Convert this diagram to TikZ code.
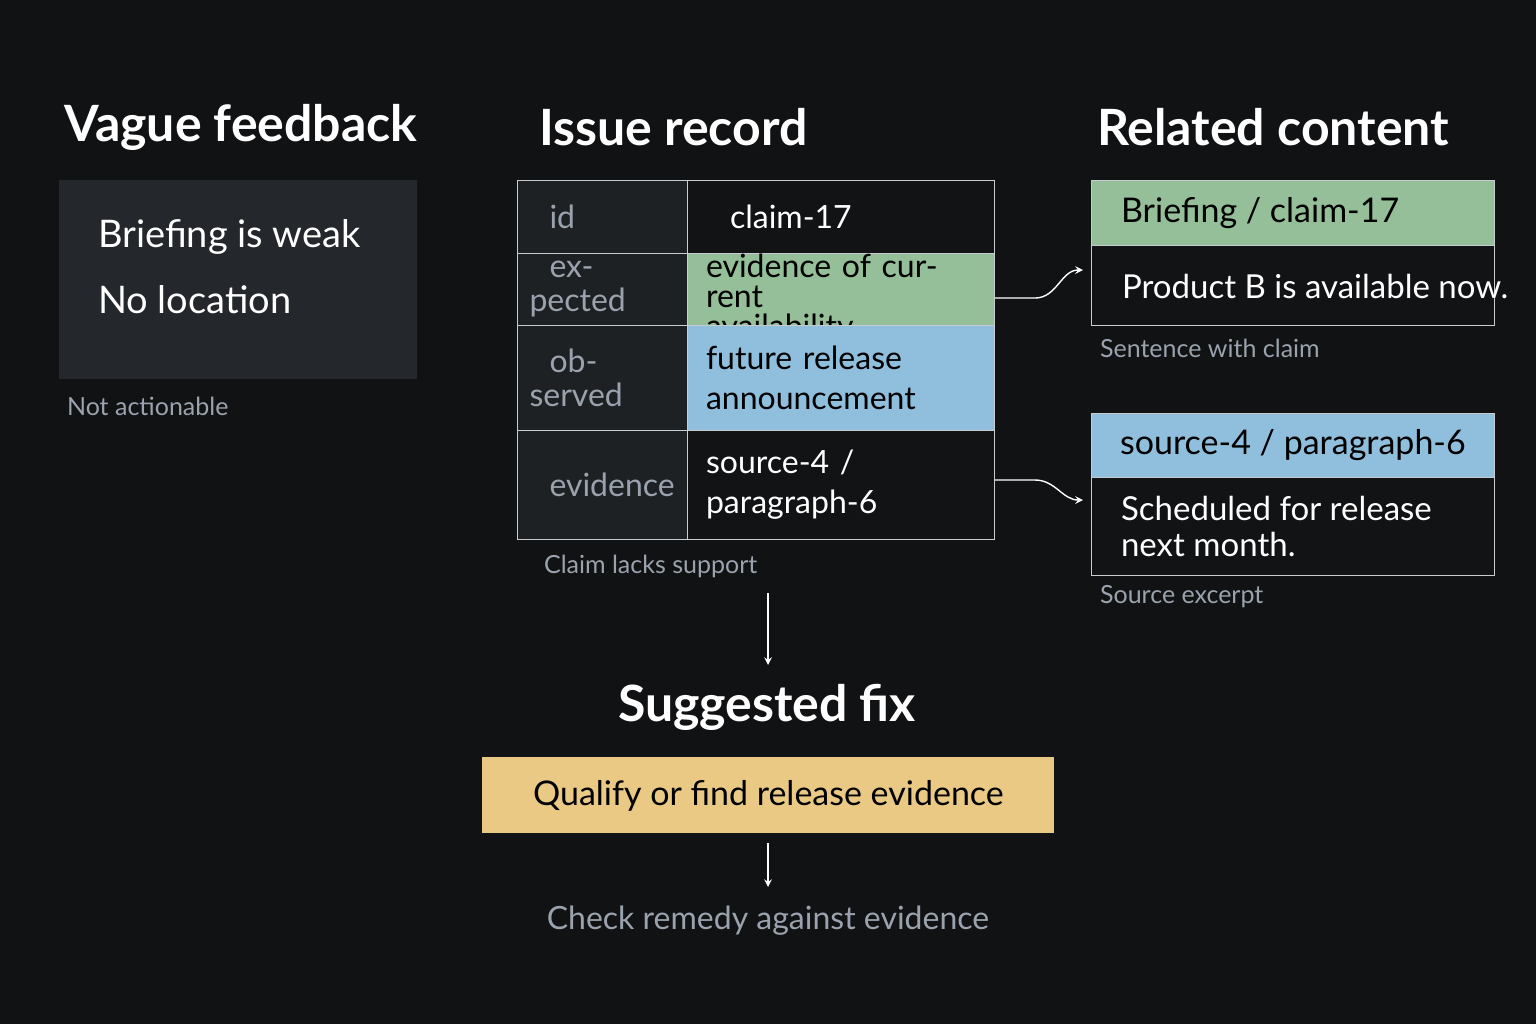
\documentclass[tikz,border=0pt]{standalone}
\usepackage{fontspec}
\setmainfont{Lato}
\definecolor{bg}{HTML}{111214}
\definecolor{panel}{HTML}{24272B}
\definecolor{keycell}{HTML}{1E2124}
\definecolor{valcell}{HTML}{121315}
\definecolor{okgreen}{HTML}{94BF98}
\definecolor{infoblue}{HTML}{8FBFDC}
\definecolor{fixyellow}{HTML}{E9C984}
\definecolor{muted}{HTML}{9AA3AD}
\definecolor{rule}{HTML}{C8CCD0}
\tikzset{
  title/.style={anchor=west,text=white,font=\fontsize{25}{28}\selectfont\bfseries},
  note/.style={anchor=west,text=muted,font=\fontsize{12.5}{14}\selectfont},
  cell/.style={draw=rule,line width=0.5pt,anchor=north west,inner sep=0pt},
  key/.style={cell,fill=keycell,text=muted,font=\fontsize{16}{17}\selectfont,align=left},
  val/.style={cell,fill=valcell,text=white,font=\fontsize{16}{15}\selectfont,align=left},
  link/.style={->,>=stealth,draw=white,line width=0.7pt}
}
\begin{document}
\begin{tikzpicture}[x=0.5pt,y=-0.5pt]
\fill[bg] (0,0) rectangle (1536,1024);
\useasboundingbox (0,0) rectangle (1536,1024);

% left column
\node[title] (tvague) at (57,127) {Vague feedback};
\node[fill=panel,anchor=north west,minimum width=179pt,minimum height=99.5pt,inner sep=0pt] (vague) at (59,180) {};
\node[anchor=west,text=white,font=\fontsize{19}{20}\selectfont] (v1) at (91,237) {Briefing is weak};
\node[anchor=west,text=white,font=\fontsize{19}{20}\selectfont] (v2) at (91,300) {No location};
\node[note] (nvague) at (60,406) {Not actionable};

% issue record table
\node[title] (tissue) at (532,127) {Issue record};
\node[key,minimum width=85pt,minimum height=36.5pt,text width=73pt] (kid) at (517,180) {\hspace*{10pt}id};
\node[val,minimum width=153.5pt,minimum height=36.5pt,text width=135pt] (vid) at (687,180) {\hspace*{12pt}claim-17};
\node[key,minimum width=85pt,minimum height=36pt,text width=73pt] (kexp) at (517,253) {\hspace*{10pt}expected};
\node[val,fill=okgreen,text=black,minimum width=153.5pt,minimum height=36pt,text width=135pt] (vexp) at (687,253) {evidence of current\\availability};
\node[key,minimum width=85pt,minimum height=52.5pt,text width=73pt] (kobs) at (517,325) {\hspace*{10pt}observed};
\node[val,fill=infoblue,text=black,minimum width=153.5pt,minimum height=52.5pt,text width=135pt,font=\fontsize{16}{20}\selectfont] (vobs) at (687,325) {future release\\announcement};
\node[key,minimum width=85pt,minimum height=54.5pt,text width=73pt] (kevi) at (517,430) {\hspace*{10pt}evidence};
\node[val,minimum width=153.5pt,minimum height=54.5pt,text width=135pt,font=\fontsize{16}{20}\selectfont] (vevi) at (687,430) {source-4 /\\paragraph-6};
\node[note] (nissue) at (537,566) {Claim lacks support};

% related content
\node[title] (trel) at (1090,127) {Related content};
\node[cell,fill=okgreen,minimum width=201.5pt,minimum height=32.5pt] (rbrief) at (1091,180) {};
\node[anchor=west,font=\fontsize{17}{18}\selectfont] at (1114,213) {Briefing / claim-17};
\node[cell,fill=valcell,minimum width=201.5pt,minimum height=40pt] (rsent) at (1091,245) {};
\node[anchor=west,text=white,font=\fontsize{16.5}{18}\selectfont] at (1115,286) {Product B is available now.};
\node[note] (nsent) at (1093,348) {Sentence with claim};
\node[cell,fill=infoblue,minimum width=201.5pt,minimum height=32pt] (rsrc) at (1091,413) {};
\node[anchor=west,font=\fontsize{17}{18}\selectfont] at (1113,445) {source-4 / paragraph-6};
\node[cell,fill=valcell,minimum width=201.5pt,minimum height=49pt] (rexc) at (1091,477) {};
\node[anchor=west,text=white,align=left,font=\fontsize{16.5}{18}\selectfont] at (1114,526) {Scheduled for release\\next month.};
\node[note] (nexc) at (1093,597) {Source excerpt};

% connectors
\coordinate (a1) at (1083,270);
\coordinate (a2) at (1083,500);
\draw[link] (vexp.east) -- ++(20pt,0) to[out=0,in=180] (a1);
\draw[link] (vevi.east |- 0,480) -- ++(20pt,0) to[out=0,in=180] (a2);

% suggested fix
\node[title,anchor=center] (tfix) at (767,707) {Suggested fix};
\node[fill=fixyellow,anchor=north west,minimum width=286pt,minimum height=38pt,inner sep=0pt,font=\fontsize{17}{18}\selectfont] (fix) at (482,757) {Qualify or find release evidence};
\node[anchor=center,text=muted,font=\fontsize{16}{18}\selectfont] (check) at (768,921) {Check remedy against evidence};
\coordinate (d0) at (768,593);
\coordinate (d1) at (768,665);
\coordinate (d2) at (768,843);
\coordinate (d3) at (768,887);
\draw[link] (d0) -- (d1);
\draw[link] (d2) -- (d3);
\end{tikzpicture}
\end{document}
